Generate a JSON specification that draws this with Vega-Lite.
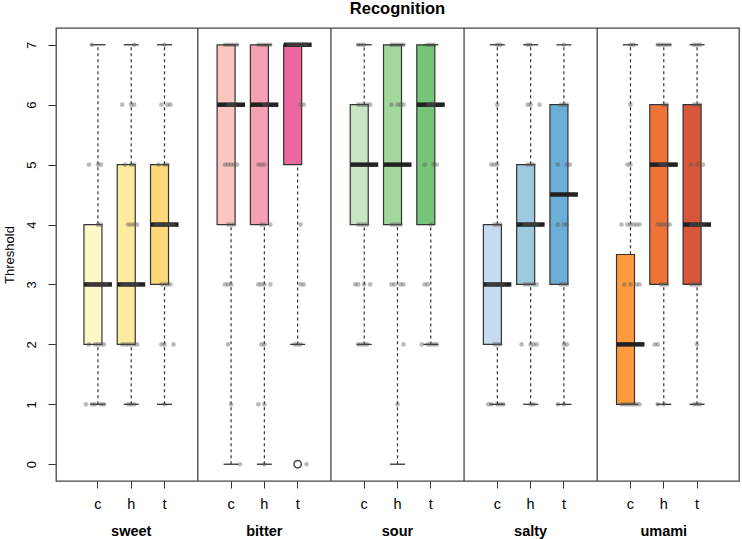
{
  "$schema": "https://vega.github.io/schema/vega-lite/v6.json",
  "width": 683,
  "height": 453,
  "autosize": {"type": "none"},
  "padding": {"left": 56, "top": 28, "right": 3, "bottom": 58},
  "background": "white",
  "title": {"text": "Recognition", "anchor": "middle", "fontSize": 16.5, "fontWeight": "bold", "font": "Liberation Sans", "color": "black", "offset": 10},
  "config": {
    "font": "Liberation Sans",
    "view": {"stroke": "#444", "strokeWidth": 1.3},
    "axis": {"grid": false, "domain": false, "tickColor": "#333", "labelColor": "black", "titleColor": "black"}
  },
  "datasets": {
    "boxes": [
      {"b": "sweet|c", "lo": 1, "q1": 2, "med": 3, "q3": 4, "hi": 7},
      {"b": "sweet|h", "lo": 1, "q1": 2, "med": 3, "q3": 5, "hi": 7},
      {"b": "sweet|t", "lo": 1, "q1": 3, "med": 4, "q3": 5, "hi": 7},
      {"b": "bitter|c", "lo": 0, "q1": 4, "med": 6, "q3": 7, "hi": 7},
      {"b": "bitter|h", "lo": 0, "q1": 4, "med": 6, "q3": 7, "hi": 7},
      {"b": "bitter|t", "lo": 2, "q1": 5, "med": 7, "q3": 7, "hi": 7},
      {"b": "sour|c", "lo": 2, "q1": 4, "med": 5, "q3": 6, "hi": 7},
      {"b": "sour|h", "lo": 0, "q1": 4, "med": 5, "q3": 7, "hi": 7},
      {"b": "sour|t", "lo": 2, "q1": 4, "med": 6, "q3": 7, "hi": 7},
      {"b": "salty|c", "lo": 1, "q1": 2, "med": 3, "q3": 4, "hi": 7},
      {"b": "salty|h", "lo": 1, "q1": 3, "med": 4, "q3": 5, "hi": 7},
      {"b": "salty|t", "lo": 1, "q1": 3, "med": 4.5, "q3": 6, "hi": 7},
      {"b": "umami|c", "lo": 1, "q1": 1, "med": 2, "q3": 3.5, "hi": 7},
      {"b": "umami|h", "lo": 1, "q1": 3, "med": 5, "q3": 6, "hi": 7},
      {"b": "umami|t", "lo": 1, "q1": 3, "med": 4, "q3": 6, "hi": 7}
    ],
    "seps": [{"b": "s1"}, {"b": "s2"}, {"b": "s3"}, {"b": "s4"}],
    "outliers": [{"b": "bitter|t", "v": 0}],
    "points": [
      {"b":"sweet|c","v":1,"s":-4},{"b":"sweet|c","v":1,"s":-2},{"b":"sweet|c","v":1,"s":-1},{"b":"sweet|c","v":1,"s":1},{"b":"sweet|c","v":1,"s":2},
      {"b":"sweet|c","v":2,"s":-3},{"b":"sweet|c","v":2,"s":-1},{"b":"sweet|c","v":2,"s":0},{"b":"sweet|c","v":2,"s":1},{"b":"sweet|c","v":2,"s":2},
      {"b":"sweet|c","v":3,"s":-3},{"b":"sweet|c","v":3,"s":-2},{"b":"sweet|c","v":3,"s":-1},{"b":"sweet|c","v":3,"s":0},{"b":"sweet|c","v":3,"s":1},{"b":"sweet|c","v":3,"s":2},{"b":"sweet|c","v":3,"s":3},
      {"b":"sweet|c","v":4,"s":0},{"b":"sweet|c","v":4,"s":1},
      {"b":"sweet|c","v":5,"s":-3},{"b":"sweet|c","v":5,"s":0},{"b":"sweet|c","v":5,"s":1},
      {"b":"sweet|c","v":7,"s":-2},
      {"b":"sweet|h","v":1,"s":-1},{"b":"sweet|h","v":1,"s":0},{"b":"sweet|h","v":1,"s":1},
      {"b":"sweet|h","v":2,"s":-3},{"b":"sweet|h","v":2,"s":-2},{"b":"sweet|h","v":2,"s":-1},{"b":"sweet|h","v":2,"s":0},{"b":"sweet|h","v":2,"s":1},{"b":"sweet|h","v":2,"s":2},
      {"b":"sweet|h","v":3,"s":-3},{"b":"sweet|h","v":3,"s":-2},{"b":"sweet|h","v":3,"s":-1},{"b":"sweet|h","v":3,"s":0},{"b":"sweet|h","v":3,"s":1},{"b":"sweet|h","v":3,"s":2},
      {"b":"sweet|h","v":4,"s":-1},{"b":"sweet|h","v":4,"s":0},{"b":"sweet|h","v":4,"s":1},{"b":"sweet|h","v":4,"s":2},
      {"b":"sweet|h","v":5,"s":-2},{"b":"sweet|h","v":5,"s":0},{"b":"sweet|h","v":5,"s":1},
      {"b":"sweet|h","v":6,"s":-3},{"b":"sweet|h","v":6,"s":0},{"b":"sweet|h","v":6,"s":1},
      {"b":"sweet|h","v":7,"s":1},
      {"b":"sweet|t","v":1,"s":0},
      {"b":"sweet|t","v":2,"s":-1},{"b":"sweet|t","v":2,"s":0},{"b":"sweet|t","v":2,"s":3},
      {"b":"sweet|t","v":3,"s":-1},{"b":"sweet|t","v":3,"s":0},{"b":"sweet|t","v":3,"s":1},{"b":"sweet|t","v":3,"s":2},
      {"b":"sweet|t","v":4,"s":-3},{"b":"sweet|t","v":4,"s":-2},{"b":"sweet|t","v":4,"s":-1},{"b":"sweet|t","v":4,"s":0},{"b":"sweet|t","v":4,"s":1},{"b":"sweet|t","v":4,"s":2},{"b":"sweet|t","v":4,"s":3},
      {"b":"sweet|t","v":5,"s":-2},{"b":"sweet|t","v":5,"s":0},{"b":"sweet|t","v":5,"s":1},
      {"b":"sweet|t","v":6,"s":-1},{"b":"sweet|t","v":6,"s":1},{"b":"sweet|t","v":6,"s":2},
      {"b":"sweet|t","v":7,"s":0},
      {"b":"bitter|c","v":0,"s":3},{"b":"bitter|c","v":1,"s":0},{"b":"bitter|c","v":2,"s":-1},
      {"b":"bitter|c","v":3,"s":-2},{"b":"bitter|c","v":3,"s":-1},{"b":"bitter|c","v":3,"s":0},
      {"b":"bitter|c","v":4,"s":-1},{"b":"bitter|c","v":4,"s":0},{"b":"bitter|c","v":4,"s":1},
      {"b":"bitter|c","v":5,"s":-2},{"b":"bitter|c","v":5,"s":-1},{"b":"bitter|c","v":5,"s":0},{"b":"bitter|c","v":5,"s":1},{"b":"bitter|c","v":5,"s":2},
      {"b":"bitter|c","v":6,"s":-1},{"b":"bitter|c","v":6,"s":0},{"b":"bitter|c","v":6,"s":1},
      {"b":"bitter|c","v":7,"s":-2},{"b":"bitter|c","v":7,"s":-1},{"b":"bitter|c","v":7,"s":0},{"b":"bitter|c","v":7,"s":1},{"b":"bitter|c","v":7,"s":2},
      {"b":"bitter|h","v":0,"s":0},{"b":"bitter|h","v":1,"s":-2},{"b":"bitter|h","v":1,"s":0},
      {"b":"bitter|h","v":2,"s":-1},{"b":"bitter|h","v":2,"s":0},
      {"b":"bitter|h","v":3,"s":-2},{"b":"bitter|h","v":3,"s":-1},{"b":"bitter|h","v":3,"s":0},{"b":"bitter|h","v":3,"s":2},
      {"b":"bitter|h","v":4,"s":-1},{"b":"bitter|h","v":4,"s":0},{"b":"bitter|h","v":4,"s":2},
      {"b":"bitter|h","v":5,"s":-2},{"b":"bitter|h","v":5,"s":-1},{"b":"bitter|h","v":5,"s":0},
      {"b":"bitter|h","v":6,"s":0},{"b":"bitter|h","v":6,"s":1},
      {"b":"bitter|h","v":7,"s":-2},{"b":"bitter|h","v":7,"s":-1},{"b":"bitter|h","v":7,"s":0},{"b":"bitter|h","v":7,"s":1},{"b":"bitter|h","v":7,"s":2},
      {"b":"bitter|t","v":0,"s":3},
      {"b":"bitter|t","v":2,"s":-1},{"b":"bitter|t","v":2,"s":0},{"b":"bitter|t","v":2,"s":1},
      {"b":"bitter|t","v":3,"s":1},{"b":"bitter|t","v":3,"s":2},{"b":"bitter|t","v":4,"s":1},
      {"b":"bitter|t","v":6,"s":1},{"b":"bitter|t","v":6,"s":2},
      {"b":"bitter|t","v":7,"s":-3},{"b":"bitter|t","v":7,"s":-2},{"b":"bitter|t","v":7,"s":-1},{"b":"bitter|t","v":7,"s":0},{"b":"bitter|t","v":7,"s":1},{"b":"bitter|t","v":7,"s":2},{"b":"bitter|t","v":7,"s":3},
      {"b":"sour|c","v":2,"s":-2},{"b":"sour|c","v":2,"s":-1},{"b":"sour|c","v":2,"s":0},{"b":"sour|c","v":2,"s":1},
      {"b":"sour|c","v":3,"s":-3},{"b":"sour|c","v":3,"s":-2},{"b":"sour|c","v":3,"s":0},{"b":"sour|c","v":3,"s":2},
      {"b":"sour|c","v":4,"s":-2},{"b":"sour|c","v":4,"s":-1},{"b":"sour|c","v":4,"s":0},{"b":"sour|c","v":4,"s":1},
      {"b":"sour|c","v":6,"s":-2},{"b":"sour|c","v":6,"s":-1},{"b":"sour|c","v":6,"s":0},{"b":"sour|c","v":6,"s":1},{"b":"sour|c","v":6,"s":2},
      {"b":"sour|c","v":7,"s":-2},{"b":"sour|c","v":7,"s":-1},{"b":"sour|c","v":7,"s":0},
      {"b":"sour|h","v":1,"s":0},{"b":"sour|h","v":2,"s":2},
      {"b":"sour|h","v":3,"s":-2},{"b":"sour|h","v":3,"s":-1},{"b":"sour|h","v":3,"s":1},{"b":"sour|h","v":3,"s":2},
      {"b":"sour|h","v":4,"s":-2},{"b":"sour|h","v":4,"s":-1},{"b":"sour|h","v":4,"s":0},{"b":"sour|h","v":4,"s":1},
      {"b":"sour|h","v":6,"s":-2},{"b":"sour|h","v":6,"s":0},{"b":"sour|h","v":6,"s":1},{"b":"sour|h","v":6,"s":2},
      {"b":"sour|h","v":7,"s":-2},{"b":"sour|h","v":7,"s":-1},{"b":"sour|h","v":7,"s":0},{"b":"sour|h","v":7,"s":1},{"b":"sour|h","v":7,"s":2},
      {"b":"sour|t","v":2,"s":-3},{"b":"sour|t","v":2,"s":-1},{"b":"sour|t","v":2,"s":0},{"b":"sour|t","v":2,"s":1},{"b":"sour|t","v":2,"s":2},
      {"b":"sour|t","v":3,"s":-2},{"b":"sour|t","v":3,"s":-1},{"b":"sour|t","v":4,"s":0},
      {"b":"sour|t","v":5,"s":-2},{"b":"sour|t","v":5,"s":1},{"b":"sour|t","v":5,"s":2},
      {"b":"sour|t","v":6,"s":-1},{"b":"sour|t","v":6,"s":0},{"b":"sour|t","v":6,"s":1},
      {"b":"sour|t","v":7,"s":-1},{"b":"sour|t","v":7,"s":0},{"b":"sour|t","v":7,"s":1},
      {"b":"salty|c","v":1,"s":-3},{"b":"salty|c","v":1,"s":-2},{"b":"salty|c","v":1,"s":0},{"b":"salty|c","v":1,"s":1},{"b":"salty|c","v":1,"s":2},
      {"b":"salty|c","v":2,"s":-1},{"b":"salty|c","v":2,"s":0},{"b":"salty|c","v":2,"s":1},
      {"b":"salty|c","v":3,"s":-3},{"b":"salty|c","v":3,"s":-2},{"b":"salty|c","v":3,"s":-1},{"b":"salty|c","v":3,"s":0},{"b":"salty|c","v":3,"s":1},{"b":"salty|c","v":3,"s":2},
      {"b":"salty|c","v":4,"s":-1},{"b":"salty|c","v":4,"s":0},{"b":"salty|c","v":4,"s":1},
      {"b":"salty|c","v":5,"s":-2},{"b":"salty|c","v":5,"s":-1},{"b":"salty|c","v":5,"s":0},
      {"b":"salty|c","v":6,"s":0},{"b":"salty|c","v":7,"s":0},{"b":"salty|c","v":7,"s":1},
      {"b":"salty|h","v":1,"s":0},{"b":"salty|h","v":1,"s":1},
      {"b":"salty|h","v":2,"s":-3},{"b":"salty|h","v":2,"s":0},{"b":"salty|h","v":2,"s":1},{"b":"salty|h","v":2,"s":2},
      {"b":"salty|h","v":3,"s":-2},{"b":"salty|h","v":3,"s":-1},{"b":"salty|h","v":3,"s":0},{"b":"salty|h","v":3,"s":1},{"b":"salty|h","v":3,"s":2},
      {"b":"salty|h","v":4,"s":-2},{"b":"salty|h","v":4,"s":-1},{"b":"salty|h","v":4,"s":0},{"b":"salty|h","v":4,"s":1},{"b":"salty|h","v":4,"s":2},
      {"b":"salty|h","v":5,"s":-1},{"b":"salty|h","v":5,"s":0},{"b":"salty|h","v":5,"s":1},
      {"b":"salty|h","v":6,"s":-1},{"b":"salty|h","v":6,"s":0},{"b":"salty|h","v":6,"s":3},
      {"b":"salty|h","v":7,"s":-1},{"b":"salty|h","v":7,"s":0},
      {"b":"salty|t","v":1,"s":-2},{"b":"salty|t","v":1,"s":0},
      {"b":"salty|t","v":2,"s":0},{"b":"salty|t","v":2,"s":1},
      {"b":"salty|t","v":3,"s":-1},{"b":"salty|t","v":3,"s":0},{"b":"salty|t","v":3,"s":1},
      {"b":"salty|t","v":4,"s":-2},{"b":"salty|t","v":4,"s":0},{"b":"salty|t","v":4,"s":1},
      {"b":"salty|t","v":5,"s":-2},{"b":"salty|t","v":5,"s":1},{"b":"salty|t","v":5,"s":2},
      {"b":"salty|t","v":6,"s":-1},{"b":"salty|t","v":6,"s":0},{"b":"salty|t","v":6,"s":1},
      {"b":"salty|t","v":7,"s":0},
      {"b":"umami|c","v":1,"s":-3},{"b":"umami|c","v":1,"s":-2},{"b":"umami|c","v":1,"s":-1},{"b":"umami|c","v":1,"s":0},{"b":"umami|c","v":1,"s":1},{"b":"umami|c","v":1,"s":2},{"b":"umami|c","v":1,"s":3},
      {"b":"umami|c","v":3,"s":-2},{"b":"umami|c","v":3,"s":0},{"b":"umami|c","v":3,"s":2},{"b":"umami|c","v":3,"s":3},
      {"b":"umami|c","v":4,"s":-3},{"b":"umami|c","v":4,"s":-1},{"b":"umami|c","v":4,"s":0},{"b":"umami|c","v":4,"s":1},{"b":"umami|c","v":4,"s":2},{"b":"umami|c","v":4,"s":3},
      {"b":"umami|c","v":5,"s":-1},{"b":"umami|c","v":5,"s":0},{"b":"umami|c","v":6,"s":0},
      {"b":"umami|c","v":7,"s":0},{"b":"umami|c","v":7,"s":1},
      {"b":"umami|h","v":1,"s":-2},{"b":"umami|h","v":1,"s":0},
      {"b":"umami|h","v":2,"s":-3},{"b":"umami|h","v":2,"s":-2},
      {"b":"umami|h","v":3,"s":-1},{"b":"umami|h","v":3,"s":0},{"b":"umami|h","v":3,"s":1},
      {"b":"umami|h","v":4,"s":-2},{"b":"umami|h","v":4,"s":-1},{"b":"umami|h","v":4,"s":0},{"b":"umami|h","v":4,"s":1},{"b":"umami|h","v":4,"s":2},
      {"b":"umami|h","v":5,"s":-1},{"b":"umami|h","v":5,"s":0},{"b":"umami|h","v":5,"s":1},
      {"b":"umami|h","v":6,"s":0},{"b":"umami|h","v":6,"s":1},
      {"b":"umami|h","v":7,"s":-2},{"b":"umami|h","v":7,"s":-1},{"b":"umami|h","v":7,"s":0},{"b":"umami|h","v":7,"s":1},{"b":"umami|h","v":7,"s":2},
      {"b":"umami|t","v":1,"s":-1},{"b":"umami|t","v":1,"s":0},{"b":"umami|t","v":1,"s":1},
      {"b":"umami|t","v":2,"s":0},
      {"b":"umami|t","v":3,"s":-2},{"b":"umami|t","v":3,"s":-1},{"b":"umami|t","v":3,"s":0},{"b":"umami|t","v":3,"s":1},
      {"b":"umami|t","v":4,"s":-2},{"b":"umami|t","v":4,"s":-1},{"b":"umami|t","v":4,"s":0},{"b":"umami|t","v":4,"s":1},{"b":"umami|t","v":4,"s":2},
      {"b":"umami|t","v":5,"s":-2},{"b":"umami|t","v":5,"s":0},{"b":"umami|t","v":5,"s":2},
      {"b":"umami|t","v":6,"s":-1},{"b":"umami|t","v":6,"s":0},{"b":"umami|t","v":6,"s":1},
      {"b":"umami|t","v":7,"s":-1},{"b":"umami|t","v":7,"s":0},{"b":"umami|t","v":7,"s":1}
    ]
  },
  "resolve": {"axis": {"x": "independent"}},
  "layer": [
    {
      "data": {"name": "boxes"},
      "mark": {"type": "rule", "strokeDash": [3, 3], "color": "#333", "strokeWidth": 1.2},
      "encoding": {
        "x": {"field": "b", "type": "nominal", "scale": {"domain": ["sweet|c","sweet|h","sweet|t","s1","bitter|c","bitter|h","bitter|t","s2","sour|c","sour|h","sour|t","s3","salty|c","salty|h","salty|t","s4","umami|c","umami|h","umami|t"], "paddingInner": 0, "paddingOuter": 0.76},
          "axis": {"orient": "bottom", "title": null, "values": ["sweet|c","sweet|h","sweet|t","bitter|c","bitter|h","bitter|t","sour|c","sour|h","sour|t","salty|c","salty|h","salty|t","umami|c","umami|h","umami|t"], "labelExpr": "split(datum.label, '|')[1]", "labelAngle": 0, "tickSize": 7, "labelPadding": 9, "labelFontSize": 14.5}},
        "y": {"field": "lo", "type": "quantitative", "title": "Threshold", "scale": {"domain": [-0.28, 7.28], "nice": false, "zero": false},
          "axis": {"values": [0,1,2,3,4,5,6,7], "format": "d", "labelAngle": -90, "labelAlign": "center", "labelBaseline": "bottom", "labelFontSize": 13, "tickSize": 8, "labelPadding": 10, "titleFontSize": 13, "titleFontWeight": "normal", "titlePadding": 9}},
        "y2": {"field": "hi"}
      }
    },
    {
      "data": {"name": "boxes"},
      "mark": {"type": "bar", "stroke": "#333", "strokeWidth": 1.2, "width": {"band": 0.84}},
      "encoding": {
        "x": {"field": "b", "type": "nominal", "axis": null},
        "y": {"field": "q1", "type": "quantitative", "title": "Threshold"},
        "y2": {"field": "q3"},
        "color": {"field": "b", "type": "nominal", "legend": null,
          "scale": {"domain": ["sweet|c","sweet|h","sweet|t","bitter|c","bitter|h","bitter|t","sour|c","sour|h","sour|t","salty|c","salty|h","salty|t","umami|c","umami|h","umami|t"],
            "range": ["#FEF8C9","#FDEB9E","#FDD878","#FBC6C1","#F6A0B5","#EC679E","#C8E6C1","#A3D89C","#76C477","#C6DBEF","#9ECAE1","#6BAED6","#FD9B3D","#EF7337","#D6573A"]}}
      }
    },
    {
      "data": {"name": "boxes"},
      "mark": {"type": "tick", "color": "#333", "size": 15, "thickness": 1.3, "opacity": 1},
      "encoding": {
        "x": {"field": "b", "type": "nominal", "axis": null},
        "y": {"field": "lo", "type": "quantitative", "title": "Threshold"}
      }
    },
    {
      "data": {"name": "boxes"},
      "mark": {"type": "tick", "color": "#333", "size": 15, "thickness": 1.3, "opacity": 1},
      "encoding": {
        "x": {"field": "b", "type": "nominal", "axis": null},
        "y": {"field": "hi", "type": "quantitative", "title": "Threshold"}
      }
    },
    {
      "data": {"name": "boxes"},
      "mark": {"type": "tick", "color": "#222", "size": 28, "thickness": 4.5, "opacity": 1},
      "encoding": {
        "x": {"field": "b", "type": "nominal", "axis": null},
        "y": {"field": "med", "type": "quantitative", "title": "Threshold"}
      }
    },
    {
      "data": {"name": "points"},
      "mark": {"type": "circle", "color": "#555", "opacity": 0.4, "size": 22},
      "encoding": {
        "x": {"field": "b", "type": "nominal", "axis": null},
        "xOffset": {"field": "s", "type": "quantitative", "scale": {"domain": [-4, 4], "range": [4.6, 28.6]}},
        "y": {"field": "v", "type": "quantitative", "title": "Threshold"}
      }
    },
    {
      "data": {"name": "outliers"},
      "mark": {"type": "point", "shape": "circle", "filled": false, "size": 55, "stroke": "#444", "strokeWidth": 1.4, "opacity": 1},
      "encoding": {
        "x": {"field": "b", "type": "nominal", "axis": null},
        "y": {"field": "v", "type": "quantitative", "title": "Threshold"}
      }
    },
    {
      "data": {"name": "seps"},
      "mark": {"type": "rule", "color": "#444", "strokeWidth": 1.3},
      "encoding": {
        "x": {"field": "b", "type": "nominal",
          "axis": {"orient": "bottom", "title": null, "values": ["sweet|h","bitter|h","sour|h","salty|h","umami|h"], "labelExpr": "split(datum.label, '|')[0]", "labelAngle": 0, "ticks": false, "domain": false, "labelPadding": 43, "labelFontSize": 14.5, "labelFontWeight": "bold"}}
      }
    }
  ]
}
